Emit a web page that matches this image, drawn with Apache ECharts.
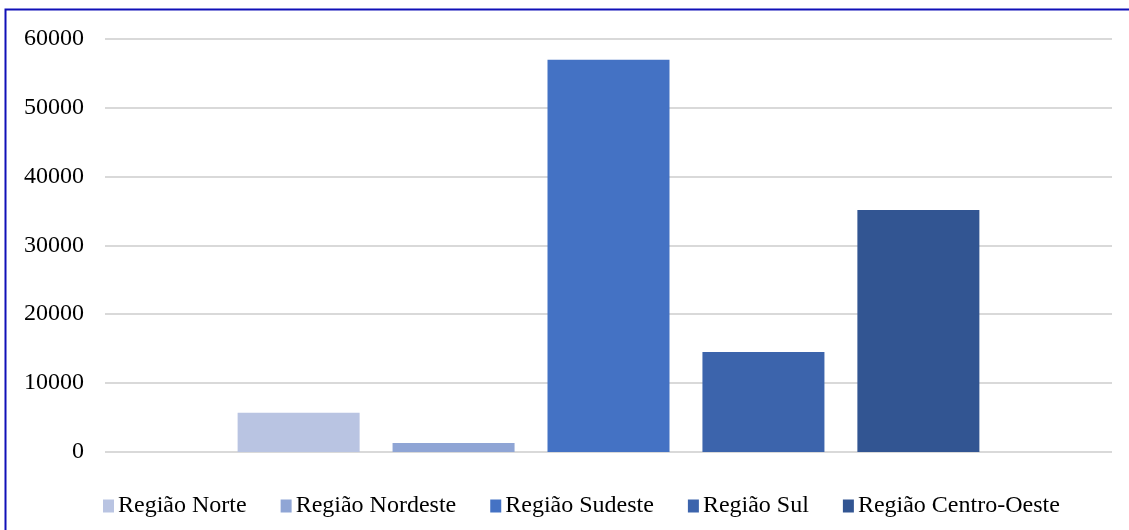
<!DOCTYPE html>
<html>
<head>
<meta charset="utf-8">
<script src="https://cdn.jsdelivr.net/npm/echarts@6/dist/echarts.min.js"></script>
<style>
  html, body { margin: 0; padding: 0; background: #ffffff; }
  #chart { width: 1129px; height: 530px; }
</style>
</head>
<body>
<div id="chart"></div>
<script>
// Regions (one series per region, single category)
const regions = ['Região Norte', 'Região Nordeste', 'Região Sudeste', 'Região Sul', 'Região Centro-Oeste'];
const values = [5700, 1300, 56900, 14500, 35100];
const colors = ['#b9c4e2', '#8fa5d5', '#4472c4', '#3c64ac', '#325592'];
const yTicks = { min: 0, max: 60000, interval: 10000 };

const FONT = "'Liberation Serif', 'Times New Roman', serif";

const chart = echarts.init(document.getElementById('chart'), null, { renderer: 'canvas' });

const series = regions.map((name, i) => ({
  name: name,
  type: 'bar',
  data: [values[i]],
  barWidth: 122,
  barGap: '27%',
  itemStyle: { color: colors[i] },
  emphasis: { disabled: true }
}));

chart.setOption({
  animation: false,
  backgroundColor: '#ffffff',
  color: colors,
  grid: { left: 105, right: 17, top: 38.5, bottom: 78, containLabel: false },
  xAxis: {
    type: 'category',
    data: [''],
    axisLine: { show: false },
    axisTick: { show: false },
    axisLabel: { show: false }
  },
  yAxis: {
    type: 'value',
    min: yTicks.min,
    max: yTicks.max,
    interval: yTicks.interval,
    axisLine: { show: false },
    axisTick: { show: false },
    axisLabel: {
      margin: 21, color: '#000000', fontFamily: FONT, fontSize: 24,
      formatter: (v) => String(v)
    },
    splitLine: { lineStyle: { color: '#d9d9d9', width: 2 } }
  },
  legend: {
    data: regions,
    left: 98,
    top: 489,
    itemWidth: 11,
    itemHeight: 13,
    itemGap: 34,
    icon: 'rect',
    textStyle: { color: '#000000', fontFamily: FONT, fontSize: 24, padding: [0, 0, 0, -1] }
  },
  graphic: [{
    type: 'rect',
    silent: true,
    shape: { x: 5.5, y: 9.5, width: 1200, height: 600 },
    style: { fill: 'none', stroke: '#1010b8', lineWidth: 2 }
  }],
  series: series
});
</script>
</body>
</html>
